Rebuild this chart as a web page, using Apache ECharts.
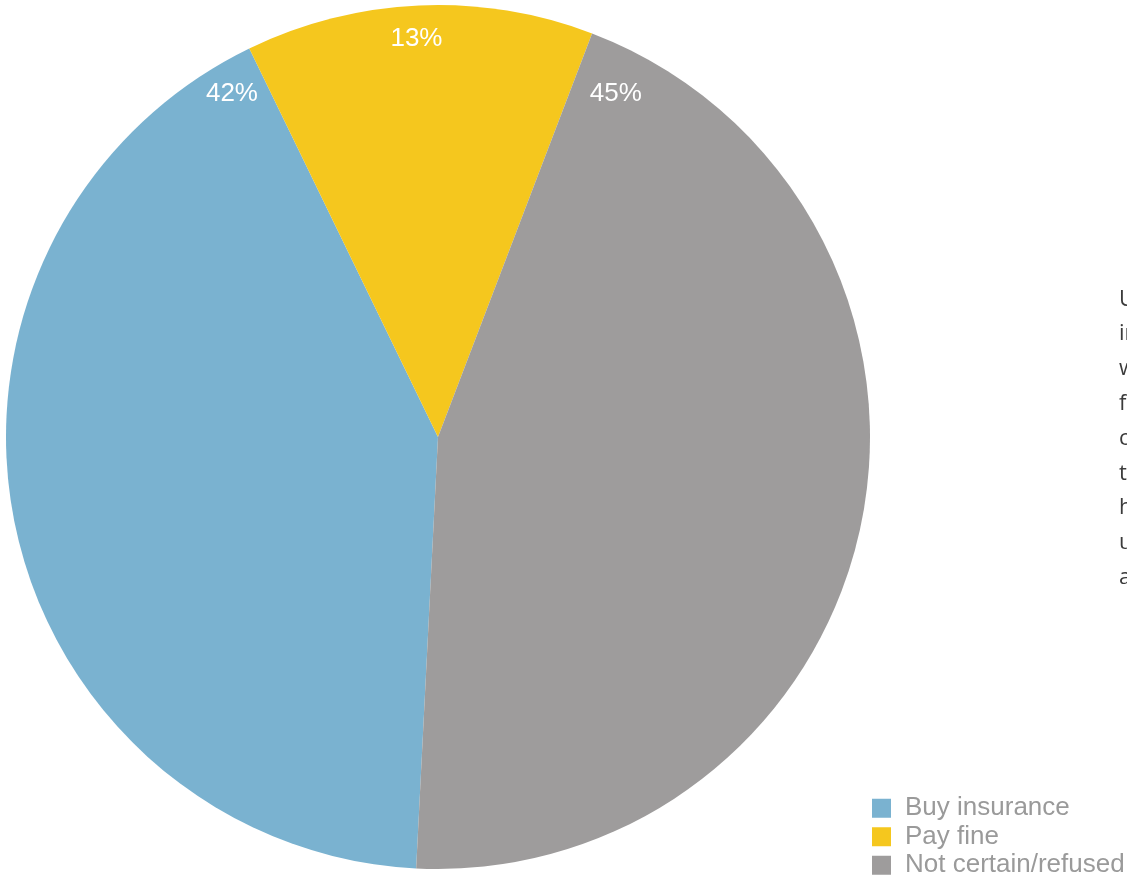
<!DOCTYPE html>
<html>
<head>
<meta charset="utf-8">
<style>
html,body{margin:0;padding:0;background:#fff;}
#chart{width:1127px;height:880px;}
</style>
<script src="https://cdn.jsdelivr.net/npm/echarts@6/dist/echarts.min.js"></script>
</head>
<body>
<div id="chart"></div>
<script>
// Data
var categories = ['Buy insurance', 'Pay fine', 'Not certain/refused'];
var values = [42, 13, 45];
var colors = ['#7ab2d0', '#f5c71e', '#9e9c9c'];
// Visible start of the clipped side note on the right
var sideNote = ['U', 'in', 'w', 'f', 'c', 't', 'h', 'u', 'a'];

// Label placement (angle clockwise from top, fraction of radius)
var labelAngle = [-31.0, -3.1, 27.4];
var labelRadiusFrac = [0.926, 0.923, 0.894];

var cx = 438, cy = 437, R = 432;
var FONT = '"Liberation Sans Narrow", "Arial Narrow", "Liberation Sans", Arial, sans-serif';

var chart = echarts.init(document.getElementById('chart'), null, {renderer: 'canvas'});
chart.setOption({
  animation: false,
  color: colors,
  legend: {
    orient: 'vertical',
    left: 872,
    top: 794,
    height: 120,
    padding: 0,
    itemWidth: 19,
    itemHeight: 19,
    itemGap: 0,
    icon: 'rect',
    selectedMode: false,
    textStyle: {color: '#9a9a9a', fontFamily: FONT, fontSize: 26, lineHeight: 28.5, padding: [0, 0, 0, 9]},
    data: categories
  },
  graphic: [{
    type: 'text',
    left: 1119,
    top: 282,
    style: {
      text: sideNote.join('\n'),
      font: '22px "Open Sans", "Noto Sans", sans-serif',
      fill: '#3b3b3b',
      lineHeight: 34.8
    }
  }],
  series: [{
    type: 'pie',
    center: [cx, cy],
    radius: R,
    startAngle: 90 - 182.9,
    clockwise: true,
    silent: true,
    itemStyle: {borderWidth: 0},
    label: {
      show: true,
      position: 'inside',
      color: '#ffffff',
      fontFamily: FONT,
      fontSize: 26,
      formatter: function (p) { return p.value + '%'; }
    },
    labelLine: {show: false},
    labelLayout: function (p) {
      var i = p.dataIndex;
      var a = labelAngle[i] * Math.PI / 180;
      var r = R * labelRadiusFrac[i];
      return {
        x: cx + r * Math.sin(a),
        y: cy - r * Math.cos(a),
        align: 'center',
        verticalAlign: 'middle'
      };
    },
    data: categories.map(function (c, i) { return {name: c, value: values[i]}; })
  }]
});
</script>
</body>
</html>
